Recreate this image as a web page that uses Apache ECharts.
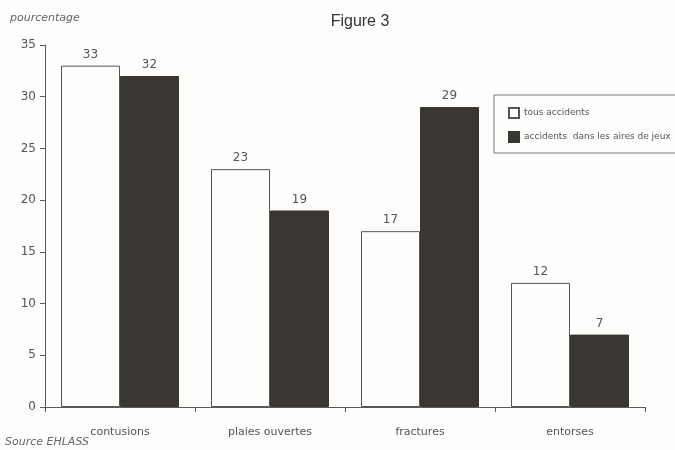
<!DOCTYPE html>
<html>
<head>
<meta charset="utf-8">
<script src="https://cdn.jsdelivr.net/npm/echarts@6/dist/echarts.min.js"></script>
<style>
  html, body { margin: 0; padding: 0; background: #fdfdfb; }
  #chart { width: 675px; height: 450px; }
</style>
</head>
<body>
<div id="chart"></div>
<script>
// Types of injury, share of accidents (%)
const categories = ['contusions', 'plaies ouvertes', 'fractures', 'entorses'];
const allAccidents = [33, 23, 17, 12];
const playgroundAccidents = [32, 19, 29, 7];
const yTicks = [0, 5, 10, 15, 20, 25, 30, 35];

const textFont = 'DejaVu Sans';
const axisGrey = '#5a5a5a';

const chart = echarts.init(document.getElementById('chart'));
chart.setOption({
  backgroundColor: '#fdfdfb',
  animation: false,
  title: {
    text: 'Figure 3',
    left: 355,
    top: 9,
    textAlign: 'center',
    textStyle: { fontFamily: 'Liberation Sans', fontSize: 16, fontWeight: 'normal', color: '#333' }
  },
  graphic: [
    {
      type: 'text', left: 10, top: 13,
      style: { text: 'pourcentage', font: 'italic 11px "DejaVu Sans"', fill: '#666' }
    },
    {
      type: 'text', left: 5, top: 437,
      style: { text: 'Source EHLASS', font: 'italic 11px "DejaVu Sans"', fill: '#666' }
    }
  ],
  legend: {
    orient: 'vertical',
    left: 494,
    top: 95,
    padding: [12, 40, 10, 14],
    itemGap: 12,
    itemWidth: 10,
    itemHeight: 10,
    borderColor: '#777',
    borderWidth: 1,
    backgroundColor: '#fdfdfb',
    textStyle: { fontFamily: textFont, fontSize: 9, color: '#555' },
    data: [
      { name: 'tous accidents', icon: 'rect' },
      { name: 'accidents  dans les aires de jeux', icon: 'rect' }
    ]
  },
  grid: { left: 45, right: 30, top: 45, bottom: 43 },
  xAxis: {
    type: 'category',
    data: categories,
    axisLine: { lineStyle: { color: axisGrey, width: 1 } },
    axisTick: { show: true, alignWithLabel: false, length: 5, lineStyle: { color: axisGrey } },
    axisLabel: { fontFamily: textFont, fontSize: 11, color: '#555', margin: 20 }
  },
  yAxis: {
    type: 'value',
    min: yTicks[0],
    max: yTicks[yTicks.length - 1],
    interval: 5,
    splitLine: { show: false },
    axisLine: { show: true, lineStyle: { color: axisGrey, width: 1 } },
    axisTick: { show: true, length: 5, lineStyle: { color: axisGrey } },
    axisLabel: { fontFamily: textFont, fontSize: 12, color: '#555', margin: 9 }
  },
  series: [
    {
      name: 'tous accidents',
      type: 'bar',
      data: allAccidents,
      barWidth: 59,
      barGap: '0%',
      itemStyle: { color: '#fdfdfb', borderColor: '#555', borderWidth: 1 },
      label: { show: true, position: 'top', distance: 5, fontFamily: textFont, fontSize: 12, color: '#555' }
    },
    {
      name: 'accidents  dans les aires de jeux',
      type: 'bar',
      data: playgroundAccidents,
      barWidth: 59,
      itemStyle: { color: '#3a3632', borderColor: '#3a3632', borderWidth: 1 },
      label: { show: true, position: 'top', distance: 5, fontFamily: textFont, fontSize: 12, color: '#555' }
    }
  ]
});
</script>
</body>
</html>
